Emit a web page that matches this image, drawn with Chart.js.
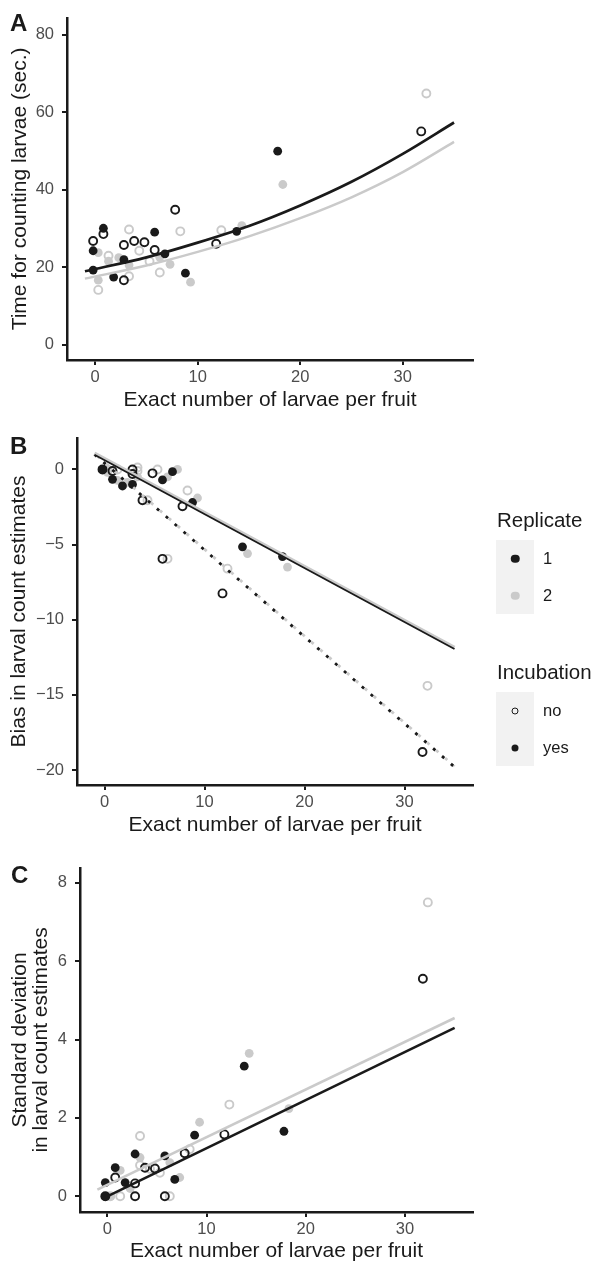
<!DOCTYPE html>
<html>
<head>
<meta charset="utf-8">
<script src="https://cdn.jsdelivr.net/npm/chart.js@4.4.1/dist/chart.umd.min.js"></script>
<style>
  body { margin: 0; background: #fff; width: 596px; height: 1265px; position: relative; overflow: hidden;
         font-family: "Liberation Sans", Arial, sans-serif; }
  canvas { position: absolute; left: 0; }
  .tag { position: absolute; font-weight: bold; font-size: 24px; line-height: 24px; color: #1a1a1a; }
  .lg-title { position: absolute; left: 497px; font-size: 20.5px; line-height: 24px; color: #1a1a1a; }
  .key { position: absolute; left: 496px; width: 38px; height: 37px; background: #f2f2f2; }
  .key span { position: absolute; left: 50%; top: 50%; transform: translate(-50%, -50%); border-radius: 50%; box-sizing: border-box; }
  .lg-label { position: absolute; left: 543px; font-size: 16.5px; line-height: 20px; color: #1a1a1a; }
</style>
</head>
<body>
<canvas id="chartA" width="596" height="420" style="top:0"></canvas>
<canvas id="chartB" width="596" height="430" style="top:420px"></canvas>
<canvas id="chartC" width="596" height="415" style="top:850px"></canvas>

<div class="tag" style="left:10px;top:11px">A</div>
<div class="tag" style="left:10px;top:434px">B</div>
<div class="tag" style="left:11px;top:863px">C</div>

<div class="lg-title" style="top:508px">Replicate</div>
<div class="key" style="top:540px"><span style="width:8.5px;height:8.5px;background:#1a1a1a"></span></div>
<div class="key" style="top:577px"><span style="width:8.5px;height:8.5px;background:#cacaca"></span></div>
<div class="lg-label" style="top:548px">1</div>
<div class="lg-label" style="top:585px">2</div>

<div class="lg-title" style="top:660px">Incubation</div>
<div class="key" style="top:692px"><span style="width:7px;height:7px;border:1.7px solid #1a1a1a"></span></div>
<div class="key" style="top:729px"><span style="width:7px;height:7px;background:#1a1a1a"></span></div>
<div class="lg-label" style="top:700px">no</div>
<div class="lg-label" style="top:737px">yes</div>

<script>
// one entry per fruit: exact larvae count and whether it was incubated
const larvae    = [0, 0, 0, 1, 1, 2, 3, 3, 3, 4, 5, 6, 6, 7, 8, 9, 12, 14, 18, 32];
const incubated = ['yes','no','yes','yes','no','yes','no','no','yes','no','no','yes','no','yes','no','yes','no','yes','yes','no'];

// panel A: time for counting (sec.)
const timeRep1 = [24.2, 26.7, 19.2, 30.0, 28.5, 17.4, 25.7, 16.6, 21.9, 26.7, 26.4, 29.0, 24.4, 23.4, 34.8, 18.4, 26.0, 29.2, 49.9, 55.0];
const timeRep2 = [23.7, 14.1, 16.6, 21.5, 22.9, 22.4, 29.7, 17.6, 20.5, 24.2, 21.5, 22.5, 18.6, 20.7, 29.2, 16.1, 29.5, 30.7, 41.3, 64.8];

// panel B: bias in larval count estimates
const biasRep1 = [0, 0, 0, -0.66, -0.1, -1.1, 0, -0.3, -1.0, -2.05, -0.26, -0.7, -5.95, -0.15, -2.45, -2.2, -8.25, -5.15, -5.8, -18.8];
const biasRep2 = [0, 0, -0.2, -0.73, 0, -0.86, 0.13, -0.1, -0.5, -2.05, 0, -0.5, -5.95, 0, -1.4, -1.9, -6.6, -5.6, -6.5, -14.4];

// panel C: standard deviation of larval count estimates
const sdRep1 = [0.35, 0, 0, 0.73, 0.48, 0.35, 0.33, 0, 1.08, 0.73, 0.71, 1.03, 0, 0.43, 1.1, 1.56, 1.58, 3.32, 1.66, 5.55];
const sdRep2 = [0, 0, 0, 0.66, 0, 0.2, 1.54, 0.79, 0.99, 0.7, 0.6, 0.86, 0, 0.48, 1.2, 1.89, 2.34, 3.65, 2.24, 7.5];

// fitted lines
const timeFitX    = [-1, 5, 10, 15, 20, 25, 30, 35];
const timeFitRep1 = [18.9, 22.5, 26.3, 30.6, 35.9, 42.0, 49.2, 57.3];
const timeFitRep2 = [17.0, 20.4, 23.9, 27.9, 32.6, 38.0, 44.5, 52.3];

const biasFitX        = [-1, 35];
const biasFitYesRep1  = [0.98, -11.95];
const biasFitYesRep2  = [1.08, -11.85];
const biasFitNoRep1   = [1.0, -19.8];
const biasFitNoRep2   = [1.05, -19.75];

const sdFitXRep1 = [0, 35];
const sdFitRep1  = [0.0, 4.3];
const sdFitXRep2 = [-1, 35];
const sdFitRep2  = [0.17, 4.55];

const xTicks    = [0, 10, 20, 30];
const timeTicks = [0, 20, 40, 60, 80];
const biasTicks = [-20, -15, -10, -5, 0];
const sdTicks   = [0, 2, 4, 6, 8];

const INK = '#1a1a1a';
const GREY = '#cacaca';
const FONT = '"Liberation Sans", Arial, sans-serif';
const DODGE1 = -0.2, DODGE2 = 0.3;

Chart.defaults.font.family = FONT;
Chart.defaults.animation = false;

function xy(xs, ys) {
  return xs.map((x, i) => ({ x, y: ys[i] }));
}

function pick(vals, want, dx) {
  const out = [];
  larvae.forEach((n, i) => { if (incubated[i] === want) out.push({ x: n + dx, y: vals[i] }); });
  return out;
}

function pointSets(rep1, rep2) {
  return [
    { data: pick(rep1, 'yes', DODGE1), pointRadius: 4.4, backgroundColor: INK, borderColor: INK, borderWidth: 0 },
    { data: pick(rep1, 'no', DODGE1), pointRadius: 4, backgroundColor: 'rgba(0,0,0,0)', borderColor: INK, borderWidth: 1.9 },
    { data: pick(rep2, 'yes', DODGE2), pointRadius: 4.4, backgroundColor: GREY, borderColor: GREY, borderWidth: 0 },
    { data: pick(rep2, 'no', DODGE2), pointRadius: 4, backgroundColor: 'rgba(0,0,0,0)', borderColor: GREY, borderWidth: 1.9 },
  ];
}

function lineSet(points, color, width, extra) {
  return Object.assign({ data: points, showLine: true, pointRadius: 0, borderColor: color, borderWidth: width, fill: false }, extra || {});
}

function axisFmt(v) {
  return v < 0 ? '\u2212' + Math.abs(v) : String(v);
}

function makePanel(id, o) {
  new Chart(document.getElementById(id), {
    type: 'scatter',
    data: { datasets: o.datasets },
    options: {
      responsive: false,
      events: [],
      layout: { padding: { left: 0, right: 123, top: o.padTop, bottom: 0 } },
      plugins: { legend: { display: false }, tooltip: { enabled: false } },
      scales: {
        x: {
          type: 'linear', min: -2.75, max: 36.85,
          afterBuildTicks: s => { s.ticks = xTicks.map(v => ({ value: v })); },
          afterFit: s => { s.height = o.xHeight; },
          grid: { drawOnChartArea: false, drawTicks: true, tickLength: 5, color: INK, lineWidth: 2 },
          border: { color: INK, width: 2.5 },
          ticks: { color: '#4d4d4d', font: { size: 16.5 }, padding: 3, maxRotation: 0, autoSkip: false, callback: axisFmt },
          title: { display: true, text: 'Exact number of larvae per fruit', color: INK, font: { size: 21 }, padding: { top: 0, bottom: o.xTitlePad } }
        },
        y: {
          type: 'linear', min: o.yMin, max: o.yMax,
          afterBuildTicks: s => { s.ticks = o.yTicks.map(v => ({ value: v })); },
          afterFit: s => { s.width = o.yWidth; },
          grid: { drawOnChartArea: false, drawTicks: true, tickLength: 5, color: INK, lineWidth: 2 },
          border: { color: INK, width: 2.5 },
          ticks: { color: '#4d4d4d', font: { size: 16.5 }, padding: 8, autoSkip: false, callback: axisFmt },
          title: { display: true, text: o.yTitle, color: INK, font: { size: 21, lineHeight: o.yTitleLH || 1.2 }, padding: { top: o.yTitlePad, bottom: 0 } }
        }
      }
    }
  });
}

makePanel('chartA', {
  padTop: 10, xHeight: 60, xTitlePad: 7.4,
  yMin: -4, yMax: 84.3, yTicks: timeTicks, yWidth: 67, yTitlePad: 7.9,
  yTitle: 'Time for counting larvae (sec.)',
  datasets: [
    lineSet(xy(timeFitX, timeFitRep1), INK, 2.7, { cubicInterpolationMode: 'monotone' }),
    lineSet(xy(timeFitX, timeFitRep2), GREY, 2.5, { cubicInterpolationMode: 'monotone' }),
    ...pointSets(timeRep1, timeRep2)
  ]
});

makePanel('chartB', {
  padTop: 15, xHeight: 65, xTitlePad: 12.4,
  yMin: -21, yMax: 2.1, yTicks: biasTicks, yWidth: 77, yTitlePad: 6.9,
  yTitle: 'Bias in larval count estimates',
  datasets: [
    lineSet(xy(biasFitX, biasFitYesRep1), INK, 1.8),
    lineSet(xy(biasFitX, biasFitYesRep2), GREY, 3.6),
    lineSet(xy(biasFitX, biasFitNoRep1), INK, 2.8, { borderDash: [3, 8.8] }),
    lineSet(xy(biasFitX, biasFitNoRep2), GREY, 2.8, { borderDash: [3, 8.8], borderDashOffset: -4 }),
    ...pointSets(biasRep1, biasRep2)
  ]
});

makePanel('chartC', {
  padTop: 13, xHeight: 53, xTitlePad: 1.4,
  yMin: -0.4, yMax: 8.38, yTicks: sdTicks, yWidth: 80, yTitlePad: 9.3, yTitleLH: 1.02,
  yTitle: ['Standard deviation', 'in larval count estimates'],
  datasets: [
    lineSet(xy(sdFitXRep1, sdFitRep1), INK, 2.6),
    lineSet(xy(sdFitXRep2, sdFitRep2), GREY, 2.6),
    ...pointSets(sdRep1, sdRep2)
  ]
});
</script>
</body>
</html>
